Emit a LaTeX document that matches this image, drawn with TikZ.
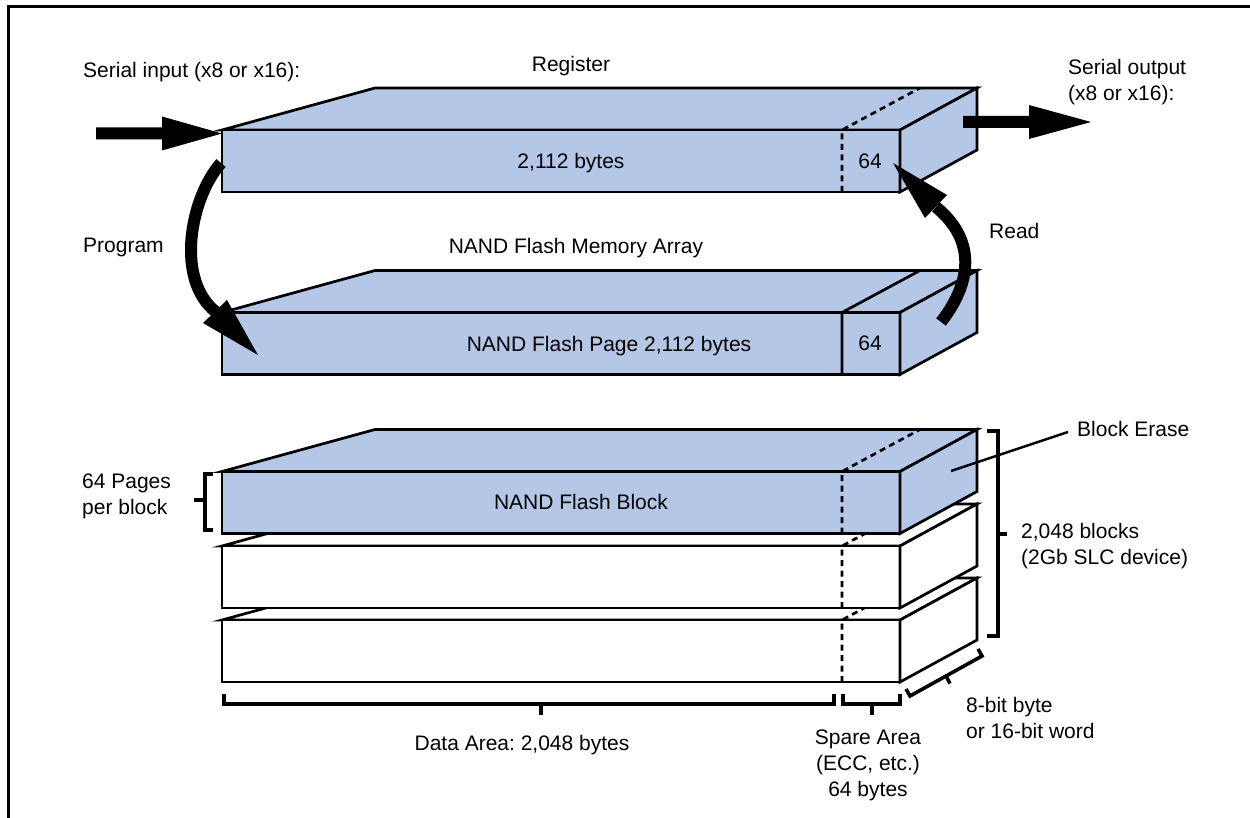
\documentclass[tikz,border=0pt]{standalone}
\usepackage{fontspec}
\setmainfont{Liberation Sans}
\usetikzlibrary{calc}
\definecolor{slabblue}{RGB}{180,199,231}
\frenchspacing

\tikzset{
  x=1pt, y=-1pt,
  edge/.style={line width=2.7pt, line join=miter},
  dashdiv/.style={dash pattern=on 6pt off 4.5pt},
  soliddiv/.style={},
  lbl/.style={font=\fontsize{21}{26}\selectfont, inner sep=0pt},
  one/.style={lbl, text height=15pt, text depth=4.5pt},
  brace/.style={line width=3.6pt, line join=miter},
  fatarrow/.style={fill=black},
  fatcurve/.style={line width=12pt},
  leader/.style={line width=2.4pt}
}

% One slab of the memory: top face, front face, right face and the
% divider between data area (left) and spare area (right).
% #1 = y of the front face top edge, #2 = fill colour, #3 = divider style
\newcommand\nandslab[3]{%
  \filldraw[edge, fill=#2] (375,#1-42) -- (977,#1-42) -- (900,#1) -- (222,#1) -- cycle;
  \filldraw[edge, fill=#2] (222,#1) rectangle (900,#1+62);
  \filldraw[edge, fill=#2] (900,#1) -- (977,#1-42) -- (977,#1+20) -- (900,#1+62) -- cycle;
  \draw[edge,#3] (842,#1+62) -- (842,#1) -- (920,#1-42);
}

\begin{document}
\begin{tikzpicture}
\useasboundingbox (0,0) rectangle (1250,818);

% frame
\draw[line width=2.6pt] (8.5,818) -- (8.5,6.5) -- (1250,6.5);

% block stack (drawn bottom to top so each block covers the one below)
\nandslab{620}{white}{dashdiv}
\nandslab{546}{white}{dashdiv}
\nandslab{471.5}{slabblue}{dashdiv}

% page register and the array page
\nandslab{130}{slabblue}{dashdiv}
\nandslab{312.5}{slabblue}{soliddiv}

% anchor points for the connectors
\coordinate (regIn)    at (222,133.5);
\coordinate (regOut)   at (963,122);
\coordinate (progFrom) at (221,163);
\coordinate (progTo)   at (216,312);
\coordinate (readFrom) at (941,322);
\coordinate (readTo)   at (936,207);
\coordinate (eraseAt)  at (951,471);

% serial input
\fill[fatarrow, shift={(regIn)}] (-126,-6) -- (-60,-6) -- (-60,-17) -- (0,0)
      -- (-60,17) -- (-60,6) -- (-126,6) -- cycle;
% serial output
\fill[fatarrow, shift={(regOut)}] (0,-6) -- (66,-6) -- (66,-17) -- (128,0)
      -- (66,17) -- (66,6) -- (0,6) -- cycle;

% program: register -> page
\draw[fatcurve] (progFrom) .. controls (190,198) and (175,280) .. (progTo);
\fill[fatarrow] (203,323) -- (227,300) -- (258,355) -- cycle;

% read: page -> register
\draw[fatcurve] (readFrom) .. controls (966,290) and (982,245) .. (readTo);
\fill[fatarrow] (925,218) -- (947,195) -- (893,163) -- cycle;

% brackets
\draw[brace] (213,474) -- (205,474) -- (205,530) -- (213,530);
\draw[brace] (205,500) -- (194,500);

\draw[brace] (987,431) -- (998,431) -- (998,636) -- (987,636);
\draw[brace] (998,534) -- (1007,534);

\draw[brace] (224,694) -- (224,704) -- (834,704) -- (834,694);
\draw[brace] (541,704) -- (541,715);

\draw[brace] (843,694) -- (843,704) -- (900,704) -- (900,694);
\draw[brace] (872,704) -- (872,715);

\draw[brace] (906,689) -- (910,696) -- (982,656) -- (978,649);
\draw[brace] (946,676) -- (950,683.5);

% block erase leader
\node[lbl, anchor=west] (erase) at (1077,429) {Block Erase};
\draw[leader] (erase.west) ++(-9,3) -- (eraseAt);

% labels
\node[one, anchor=west] (sin) at (83,72) {Serial input (x8 or x16):};
\node[one] (reg) at (571,66) {Register};
\node[one] (regdata) at (571,163) {2,112 bytes};
\node[one] (regspare) at (870,163) {64};
\node[lbl, anchor=west, align=left] (sout) at (1068,82) {Serial output\\(x8 or x16):};
\node[one, anchor=west] (prog) at (83,247) {Program};
\node[one, anchor=west] (read) at (989,233) {Read};
\node[one] (array) at (576,248) {NAND Flash Memory Array};
\node[one] (page) at (609,346) {NAND Flash Page 2,112 bytes};
\node[one] (pagespare) at (870,345) {64};
\node[one] (block) at (581,504) {NAND Flash Block};
\node[lbl, anchor=west, align=left] (pages) at (82,496) {64 Pages\\per block};
\node[lbl, anchor=west, align=left] (blocks) at (1021,546) {2,048 blocks\\(2Gb SLC device)};
\node[lbl, anchor=west, align=left] (width) at (966,718) {8-bit byte\\or 16-bit word};
\node[one] (data) at (522,745) {Data Area: 2,048 bytes};
\node[lbl, align=center] (spare) at (868,765) {Spare Area\\(ECC, etc.)\\64 bytes};
\end{tikzpicture}
\end{document}
